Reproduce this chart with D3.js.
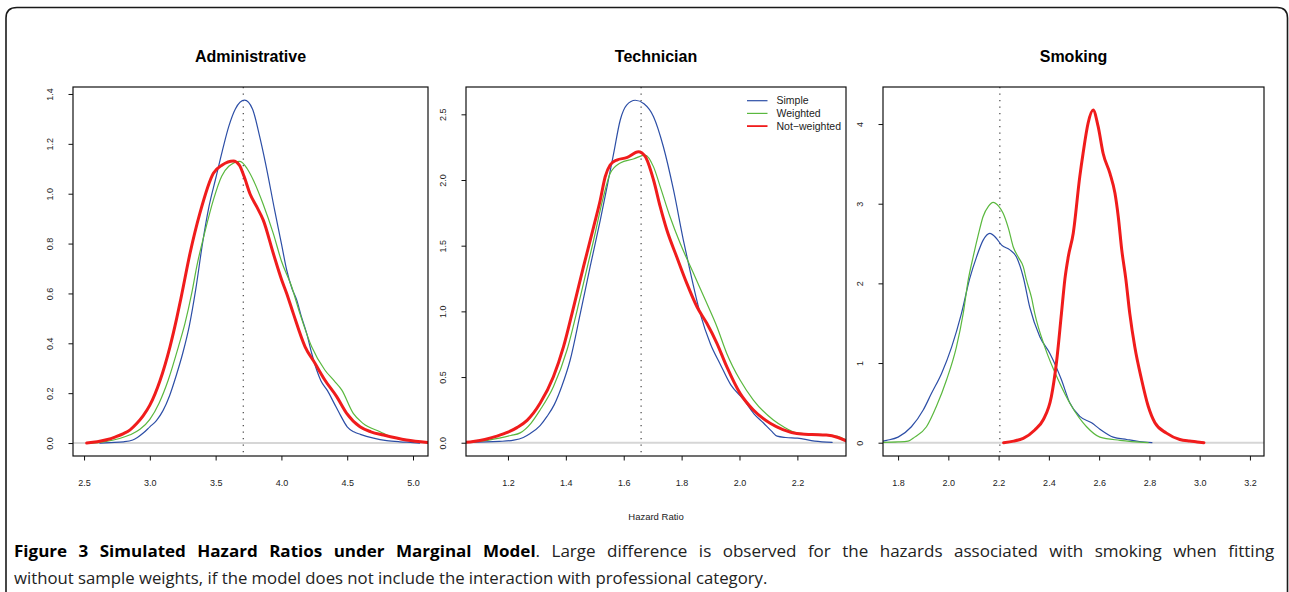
<!DOCTYPE html>
<html>
<head>
<meta charset="utf-8">
<script src="https://cdn.jsdelivr.net/npm/d3@7"></script>
<style>
  html, body { margin: 0; padding: 0; background: #fff; }
  svg { display: block; }
</style>
</head>
<body>
<svg id="fig" width="1289" height="592"></svg>
<script>
// Density estimates of simulated hazard ratios, as [hazard ratio, density] pairs.
const adminSimple = [[2.62,0],[2.7,0.002],[2.8,0.005],[2.87,0.012],[2.95,0.04],[3.0,0.065],[3.05,0.09],[3.1,0.13],[3.15,0.19],[3.2,0.27],[3.25,0.36],[3.3,0.47],[3.35,0.62],[3.4,0.8],[3.45,0.95],[3.5,1.06],[3.55,1.17],[3.6,1.27],[3.65,1.34],[3.72,1.375],[3.78,1.34],[3.83,1.24],[3.88,1.12],[3.95,0.93],[4.0,0.8],[4.04,0.694],[4.08,0.62],[4.116,0.574],[4.15,0.51],[4.192,0.44],[4.23,0.36],[4.268,0.293],[4.3,0.25],[4.35,0.21],[4.4,0.16],[4.45,0.11],[4.5,0.065],[4.55,0.045],[4.6,0.035],[4.7,0.02],[4.8,0.01],[4.9,0.005],[5.0,0.002],[5.05,0]];
const adminWeighted = [[2.55,0],[2.65,0.005],[2.77,0.018],[2.85,0.033],[2.925,0.055],[3.0,0.095],[3.07,0.16],[3.14,0.253],[3.217,0.386],[3.267,0.48],[3.318,0.6],[3.356,0.707],[3.42,0.85],[3.483,0.975],[3.546,1.07],[3.6,1.11],[3.685,1.13],[3.74,1.1],[3.786,1.055],[3.86,0.96],[3.938,0.841],[4.0,0.73],[4.078,0.627],[4.14,0.52],[4.23,0.386],[4.33,0.293],[4.40,0.25],[4.458,0.213],[4.546,0.119],[4.62,0.079],[4.75,0.045],[4.83,0.025],[5.0,0.008],[5.11,0.002]];
const adminNotWeighted = [[2.52,0.0],[2.6,0.005],[2.67,0.013],[2.74,0.025],[2.8,0.038],[2.85,0.053],[2.9,0.078],[2.95,0.11],[3.0,0.152],[3.077,0.25],[3.153,0.386],[3.204,0.5],[3.24,0.59],[3.305,0.76],[3.38,0.921],[3.483,1.082],[3.55,1.115],[3.635,1.131],[3.68,1.115],[3.716,1.07],[3.761,1.0],[3.812,0.948],[3.862,0.894],[3.938,0.761],[4.002,0.654],[4.04,0.6],[4.09,0.52],[4.18,0.386],[4.255,0.32],[4.33,0.253],[4.42,0.186],[4.496,0.119],[4.597,0.065],[4.68,0.045],[4.775,0.032],[4.95,0.012],[5.11,0.002]];

const techSimple = [[1.06,0.002],[1.17,0.01],[1.22,0.02],[1.253,0.04],[1.277,0.07],[1.311,0.13],[1.335,0.2],[1.36,0.29],[1.386,0.43],[1.415,0.63],[1.45,0.985],[1.484,1.34],[1.519,1.695],[1.547,2.0],[1.565,2.2],[1.588,2.457],[1.61,2.57],[1.64,2.607],[1.67,2.58],[1.703,2.482],[1.737,2.253],[1.772,1.924],[1.806,1.543],[1.83,1.3],[1.864,0.985],[1.9,0.75],[1.933,0.6],[1.97,0.44],[2.014,0.33],[2.05,0.22],[2.083,0.15],[2.11,0.09],[2.13,0.05],[2.16,0.04],[2.2,0.035],[2.26,0.012],[2.32,0.002]];
const techWeighted = [[1.06,0.003],[1.12,0.015],[1.17,0.035],[1.21,0.055],[1.242,0.075],[1.28,0.15],[1.311,0.249],[1.357,0.426],[1.404,0.706],[1.45,1.11],[1.496,1.543],[1.53,1.873],[1.553,2.05],[1.588,2.13],[1.633,2.16],[1.674,2.19],[1.703,2.1],[1.726,1.95],[1.76,1.72],[1.795,1.518],[1.841,1.29],[1.887,1.061],[1.922,0.883],[1.956,0.68],[2.002,0.477],[2.048,0.325],[2.117,0.173],[2.152,0.122],[2.198,0.075],[2.25,0.065],[2.3,0.06],[2.34,0.048],[2.368,0.02]];
const techNotWeighted = [[1.055,0.003],[1.08,0.01],[1.12,0.025],[1.162,0.05],[1.2,0.08],[1.231,0.115],[1.266,0.17],[1.311,0.3],[1.357,0.502],[1.392,0.731],[1.427,1.035],[1.461,1.34],[1.496,1.644],[1.519,1.848],[1.536,2.025],[1.553,2.114],[1.576,2.152],[1.61,2.17],[1.651,2.215],[1.674,2.18],[1.703,2.0],[1.726,1.797],[1.749,1.619],[1.783,1.416],[1.818,1.213],[1.853,1.035],[1.887,0.909],[1.922,0.757],[1.956,0.579],[2.002,0.376],[2.048,0.249],[2.106,0.148],[2.15,0.1],[2.198,0.07],[2.25,0.062],[2.3,0.058],[2.34,0.04],[2.368,0.015]];

const smokeSimple = [[1.74,0.02],[1.755,0.03],[1.8,0.07],[1.853,0.2],[1.9,0.41],[1.933,0.62],[1.973,0.87],[2.013,1.2],[2.052,1.62],[2.085,2.06],[2.112,2.33],[2.138,2.54],[2.165,2.628],[2.19,2.57],[2.212,2.48],[2.245,2.42],[2.271,2.33],[2.298,2.08],[2.324,1.7],[2.364,1.33],[2.404,1.12],[2.45,0.79],[2.483,0.5],[2.523,0.33],[2.57,0.25],[2.603,0.17],[2.656,0.07],[2.71,0.04],[2.76,0.015],[2.81,0]];
const smokeWeighted = [[1.74,0.005],[1.8,0.01],[1.84,0.02],[1.866,0.07],[1.913,0.2],[1.953,0.46],[1.993,0.79],[2.032,1.2],[2.059,1.62],[2.079,2.04],[2.1,2.35],[2.12,2.62],[2.138,2.837],[2.16,2.97],[2.178,3.017],[2.2,2.97],[2.218,2.88],[2.24,2.68],[2.258,2.46],[2.28,2.32],[2.298,2.21],[2.311,2.04],[2.331,1.82],[2.344,1.62],[2.384,1.2],[2.437,0.79],[2.49,0.46],[2.55,0.2],[2.603,0.07],[2.683,0.03],[2.795,0.0]];
const smokeNotWeighted = [[2.22,0],[2.26,0.02],[2.298,0.055],[2.344,0.16],[2.377,0.285],[2.41,0.58],[2.43,1.0],[2.45,1.62],[2.464,2.06],[2.477,2.33],[2.497,2.63],[2.523,3.34],[2.536,3.63],[2.556,4.01],[2.576,4.176],[2.596,3.97],[2.616,3.63],[2.643,3.38],[2.663,3.13],[2.676,2.84],[2.69,2.42],[2.706,2.06],[2.722,1.62],[2.742,1.2],[2.769,0.79],[2.795,0.46],[2.822,0.25],[2.868,0.12],[2.921,0.04],[2.96,0.02],[2.99,0.01],[3.017,0.0]];

// Panel titles, reference (true) hazard ratios and axis settings
const panelTitles = ["Administrative", "Technician", "Smoking"];
const trueHazards = [3.71, 1.66, 2.205];
const xLimits = [[2.416, 5.114], [1.055, 2.368], [1.740, 3.256]];
const yLimits = [[-0.052, 1.428], [-0.101, 2.708], [-0.167, 4.465]];
const xTicks = [[2.5, 3.0, 3.5, 4.0, 4.5, 5.0], [1.2, 1.4, 1.6, 1.8, 2.0, 2.2], [1.8, 2.0, 2.2, 2.4, 2.6, 2.8, 3.0, 3.2]];
const yTicks = [[0, 0.2, 0.4, 0.6, 0.8, 1.0, 1.2, 1.4], [0, 0.5, 1.0, 1.5, 2.0, 2.5], [0, 1, 2, 3, 4]];
const yFormats = [".1f", ".1f", "d"];

const seriesNames = ["Simple", "Weighted", "Not\u2212weighted"];
const seriesColors = ["#2c4ea6", "#5ab83e", "#f01c1c"];
const seriesWidths = [1.2, 1.2, 3];
const panelSeries = [
  [adminSimple, adminWeighted, adminNotWeighted],
  [techSimple, techWeighted, techNotWeighted],
  [smokeSimple, smokeWeighted, smokeNotWeighted]
];

const xAxisLabel = "Hazard Ratio";
const captionBold = "Figure 3 Simulated Hazard Ratios under Marginal Model";
const captionLine1 = ". Large difference is observed for the hazards associated with smoking when fitting";
const captionLine2 = "without sample weights, if the model does not include the interaction with professional category.";

// Layout
const boxes = [
  { left: 73, right: 428, top: 87, bottom: 456 },
  { left: 466, right: 846, top: 87, bottom: 456 },
  { left: 883, right: 1264, top: 87, bottom: 456 }
];
const plotFont = "'Liberation Sans', Arial, Helvetica, sans-serif";

const svg = d3.select("#fig");
svg.append("rect").attr("width", 1289).attr("height", 592).attr("fill", "#fff");

// Rounded figure frame (open at the bottom)
svg.append("path")
  .attr("d", "M6,600 L6,18 Q6,7.5 17,7.5 L1277,7.5 Q1287.5,7.5 1287.5,18 L1287.5,600")
  .attr("fill", "none").attr("stroke", "#1a1a1a").attr("stroke-width", 1.6);

panelSeries.forEach((series, i) => {
  const b = boxes[i];
  const x = d3.scaleLinear().domain(xLimits[i]).range([b.left, b.right]);
  const y = d3.scaleLinear().domain(yLimits[i]).range([b.bottom, b.top]);
  const g = svg.append("g").attr("font-family", plotFont);

  const clipId = "clip" + i;
  svg.append("clipPath").attr("id", clipId)
    .append("rect").attr("x", b.left).attr("y", b.top)
    .attr("width", b.right - b.left).attr("height", b.bottom - b.top);

  // zero line
  g.append("line")
    .attr("x1", b.left).attr("x2", b.right)
    .attr("y1", y(0)).attr("y2", y(0))
    .attr("stroke", "#d6d6d6").attr("stroke-width", 2);

  // reference line at the true hazard ratio
  g.append("line")
    .attr("x1", x(trueHazards[i])).attr("x2", x(trueHazards[i]))
    .attr("y1", b.top).attr("y2", b.bottom)
    .attr("stroke", "#333").attr("stroke-width", 1.1)
    .attr("stroke-dasharray", "1.2,5.3");

  const line = d3.line()
    .x(d => x(d[0])).y(d => y(d[1]))
    .curve(d3.curveMonotoneX);

  const curves = g.append("g").attr("clip-path", `url(#${clipId})`);
  series.forEach((pts, k) => {
    curves.append("path")
      .datum(pts)
      .attr("d", line)
      .attr("fill", "none")
      .attr("stroke", seriesColors[k])
      .attr("stroke-width", seriesWidths[k])
      .attr("stroke-linejoin", "round")
      .attr("stroke-linecap", "round");
  });

  // axes
  const ax = g.append("g")
    .attr("transform", `translate(0,${b.bottom})`)
    .call(d3.axisBottom(x).tickValues(xTicks[i]).tickFormat(d3.format(".1f"))
      .tickSize(4.5).tickPadding(19));
  ax.select(".domain").remove();
  ax.selectAll("line").attr("stroke", "#111");
  ax.selectAll("text").attr("font-size", 9).attr("fill", "#222").attr("font-family", plotFont);

  const ay = g.append("g")
    .attr("transform", `translate(${b.left},0)`)
    .call(d3.axisLeft(y).tickValues(yTicks[i]).tickFormat(d3.format(yFormats[i]))
      .tickSize(4.5));
  ay.select(".domain").remove();
  ay.selectAll("line").attr("stroke", "#111");
  ay.selectAll("text")
    .attr("x", null).attr("dy", null)
    .attr("transform", "translate(-23,0) rotate(-90)")
    .attr("text-anchor", "middle")
    .attr("dy", "0.35em")
    .attr("font-size", 9).attr("fill", "#222").attr("font-family", plotFont);

  // plot box
  g.append("rect")
    .attr("x", b.left).attr("y", b.top)
    .attr("width", b.right - b.left).attr("height", b.bottom - b.top)
    .attr("fill", "none").attr("stroke", "#111").attr("stroke-width", 1.2);

  // title
  g.append("text")
    .attr("x", (b.left + b.right) / 2).attr("y", 62)
    .attr("text-anchor", "middle")
    .attr("font-size", 16).attr("font-weight", "bold").attr("fill", "#000")
    .text(panelTitles[i]);

  // legend in the middle panel
  if (i === 1) {
    const lg = g.append("g");
    seriesNames.forEach((name, k) => {
      const yy = 100.7 + k * 12.7;
      lg.append("line")
        .attr("x1", 747).attr("x2", 767.5).attr("y1", yy).attr("y2", yy)
        .attr("stroke", seriesColors[k]).attr("stroke-width", k === 2 ? 1.8 : 1.2);
      lg.append("text")
        .attr("x", 776.5).attr("y", yy).attr("dy", "0.35em")
        .attr("font-size", 10.5).attr("fill", "#222")
        .text(name);
    });
  }
});

// shared x-axis label
svg.append("text")
  .attr("x", 656).attr("y", 520)
  .attr("text-anchor", "middle")
  .attr("font-family", plotFont).attr("font-size", 9.5).attr("fill", "#222")
  .text(xAxisLabel);

// caption: two lines, the first one justified
const capFont = "'Open Sans', 'Noto Sans', sans-serif";
const capLeft = 14, capRight = 1275, capLine2End = 768;

const cap2 = svg.append("text")
  .attr("x", 0).attr("y", 0)
  .attr("font-family", capFont).attr("font-size", 16).attr("fill", "#222")
  .text(captionLine2);
const w2 = cap2.node().getComputedTextLength();
const sx2 = (capLine2End - capLeft) / w2;
cap2.attr("transform", `translate(${capLeft},584) scale(${sx2},1)`);

const cap1 = svg.append("text")
  .attr("x", 0).attr("y", 0)
  .attr("font-family", capFont).attr("font-size", 16).attr("fill", "#222");
cap1.append("tspan").attr("font-weight", "bold").attr("fill", "#000").text(captionBold);
cap1.append("tspan").text(captionLine1);
const w1 = cap1.node().getComputedTextLength();
const nSpaces = (captionBold + captionLine1).split(" ").length - 1;
const gapExtra = 7;   // extra screen pixels per word gap
const sx1 = (capRight - capLeft - nSpaces * gapExtra) / w1;
cap1.attr("word-spacing", gapExtra / sx1)
  .attr("transform", `translate(${capLeft},557) scale(${sx1},1)`);
</script>
</body>
</html>
